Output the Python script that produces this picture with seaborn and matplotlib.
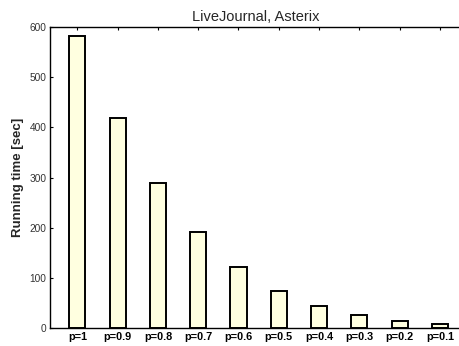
import matplotlib
matplotlib.use("Agg")
import matplotlib.pyplot as plt
import seaborn as sns
import pandas as pd

categories = ["p=1", "p=0.9", "p=0.8", "p=0.7", "p=0.6", "p=0.5", "p=0.4", "p=0.3", "p=0.2", "p=0.1"]
running_time = [582, 418, 289, 191, 121, 73, 43, 25, 13, 7]
y_ticks = [0, 100, 200, 300, 400, 500, 600]

sns.set_style("white")
plt.rcParams['font.family'] = ['Liberation Sans', 'DejaVu Sans']

df = pd.DataFrame({"cat": categories, "time": running_time})

fig = plt.figure(figsize=(4.6, 3.46), dpi=100)
ax = fig.add_axes([50/460, 1 - 328/346, 412/460, 301/346])

sns.barplot(data=df, x="cat", y="time", ax=ax, color="#FFFFE0",
            saturation=1, width=0.4, edgecolor="black", linewidth=1.4)

ax.set_xlim(-0.68, 9.55)
ax.set_ylim(0, 600)
ax.set_yticks(y_ticks)
ax.set_yticklabels([str(v) for v in y_ticks])
ax.set_title("LiveJournal, Asterix", fontsize=10.5, pad=4)
ax.set_xlabel("")
ax.set_ylabel("Running time [sec]", fontsize=9.5, fontweight="bold", labelpad=4)

for s in ["left", "bottom", "top"]:
    ax.spines[s].set_visible(True)
    ax.spines[s].set_color("black")
    ax.spines[s].set_linewidth(1.0)
ax.spines["right"].set_visible(False)

ax.tick_params(axis="y", direction="in", length=2, width=0.8, pad=2.5,
               labelsize=7.3, colors="black", labelcolor="#333333", left=True)
ax.tick_params(axis="x", direction="in", length=2, width=0.8, pad=3,
               labelsize=7.8, top=True, bottom=True, colors="black")
for lbl in ax.get_xticklabels():
    lbl.set_fontweight("bold")

fig.savefig("out.png", dpi=100)
